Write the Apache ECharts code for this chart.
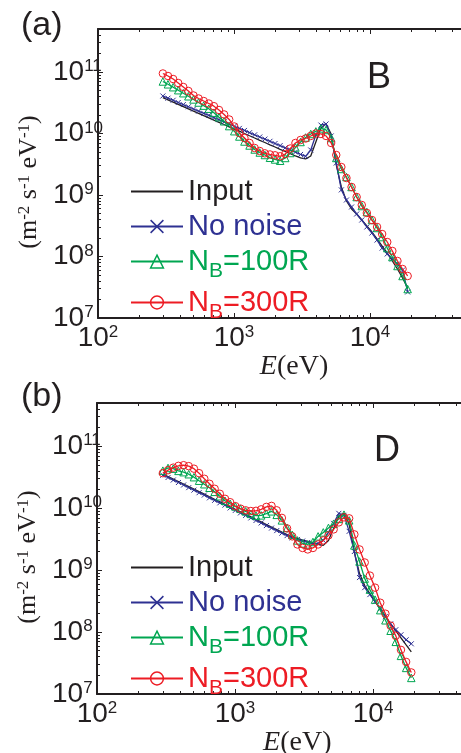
<!DOCTYPE html>
<html><head><meta charset="utf-8">
<script src="https://cdn.jsdelivr.net/npm/echarts@6/dist/echarts.min.js"></script>
<style>html,body{margin:0;padding:0;background:#fff}#c{width:461px;height:753px}</style>
</head><body><div id="c"></div>
<script>
// ---------- data ----------
const energy = [300,327,357,389,424,462,504,549,599,653,712,776,846,922,1005,1095,1194,1302,1419,1547,1687,1839,2005,2185,2383,2597,2832,3087,3366,3669,4000,4361,4754,5183,5651,6161,6716,7322,7983,8703,9488,10344,11277,12294,13403,14612,15931,17368,18934];

// panel (a) : B
const aInput = [3.84e10,3.53e10,3.24e10,2.98e10,2.74e10,2.52e10,2.31e10,2.13e10,1.95e10,1.80e10,1.65e10,1.52e10,1.40e10,1.28e10,1.18e10,1.09e10,1.00e10,9.18e9,8.45e9,7.75e9,7.14e9,6.55e9,6.03e9,5.53e9,5.10e9,4.70e9,4.31e9,4.00e9,3.85e9,4.31e9,7.28e9,1.23e10,1.43e10,9.8e9,3.08e9,1.35e9,7.98e8,5.92e8,4.91e8,3.92e8,3.13e8,2.50e8,1.93e8,1.48e8,1.14e8,8.45e7,6.26e7,4.47e7,3.08e7];
const aNoNoise = [4.07e10,3.75e10,3.47e10,3.19e10,2.95e10,2.72e10,2.50e10,2.31e10,2.13e10,1.97e10,1.81e10,1.68e10,1.55e10,1.43e10,1.31e10,1.21e10,1.12e10,1.03e10,9.52e9,8.77e9,8.11e9,7.47e9,6.88e9,6.35e9,5.85e9,5.41e9,4.99e9,4.56e9,4.23e9,5.39e9,9.46e9,1.37e10,1.43e10,9.11e9,3.31e9,1.21e9,8.29e8,6.38e8,4.91e8,3.92e8,3.02e8,2.41e8,1.85e8,1.37e8,1.10e8,9.10e7,7.55e7,6.03e7,2.65e7];
const aNB100 = [7.01e10,6.31e10,5.66e10,5.06e10,4.52e10,4.03e10,3.58e10,3.19e10,2.84e10,2.53e10,2.18e10,1.84e10,1.58e10,1.32e10,1.09e10,8.94e9,7.41e9,6.38e9,5.50e9,4.91e9,4.47e9,4.03e9,3.78e9,3.60e9,4.00e9,4.82e9,5.92e9,7.28e9,8.61e9,9.82e9,1.08e10,1.21e10,1.14e10,8.45e9,4.00e9,2.65e9,1.96e9,1.35e9,9.27e8,6.62e8,5.29e8,3.92e8,2.91e8,2.07e8,1.37e8,9.82e7,7.01e7,4.82e7,2.96e7];
const aNB300 = [9.46e10,8.61e10,7.69e10,6.62e10,5.70e10,4.91e10,4.15e10,3.71e10,3.37e10,3.07e10,2.78e10,2.41e10,2.04e10,1.69e10,1.30e10,1.02e10,8.45e9,7.01e9,5.81e9,5.19e9,4.76e9,4.56e9,4.42e9,4.26e9,4.64e9,5.70e9,7.01e9,7.84e9,8.29e9,9.11e9,1.00e10,9.82e9,9.11e9,7.01e9,4.47e9,2.85e9,1.89e9,1.35e9,9.27e8,6.88e8,5.10e8,3.92e8,3.02e8,2.32e8,1.72e8,1.23e8,8.45e7,6.26e7,4.82e7];

// panel (b) : D
const bInput = [3.54e10,3.25e10,2.96e10,2.70e10,2.46e10,2.23e10,2.03e10,1.85e10,1.69e10,1.53e10,1.39e10,1.27e10,1.16e10,1.05e10,9.57e9,8.71e9,7.94e9,7.23e9,6.58e9,6.00e9,5.44e9,4.96e9,4.52e9,4.11e9,3.75e9,3.45e9,3.25e9,3.06e9,2.91e9,2.75e9,2.60e9,2.51e9,3.02e9,4.72e9,7.39e9,8.26e9,5.48e9,1.93e9,8.81e8,5.63e8,4.18e8,3.10e8,2.39e8,1.80e8,1.36e8,1.05e8,8.09e7,6.22e7,4.80e7];
const bNoNoise = [3.41e10,3.13e10,2.85e10,2.60e10,2.37e10,2.15e10,1.96e10,1.78e10,1.63e10,1.47e10,1.34e10,1.22e10,1.12e10,1.01e10,9.22e9,8.39e9,7.65e9,6.97e9,6.34e9,5.78e9,5.24e9,4.78e9,4.35e9,3.96e9,3.61e9,3.32e9,3.13e9,2.95e9,2.80e9,2.65e9,2.70e9,3.02e9,4.07e9,5.69e9,8.26e9,7.67e9,4.23e9,2.00e9,7.59e8,5.22e8,4.03e8,3.10e8,2.39e8,1.77e8,1.36e8,1.09e8,9.04e7,7.50e7,6.46e7];
const bNB100 = [4.04e10,4.47e10,4.35e10,4.01e10,3.82e10,3.54e10,3.17e10,2.78e10,2.44e10,2.14e10,1.84e10,1.56e10,1.32e10,1.18e10,1.07e10,9.78e9,8.91e9,8.11e9,7.59e9,7.67e9,8.17e9,8.91e9,7.82e9,6.37e9,4.81e9,3.71e9,3.02e9,2.70e9,2.60e9,2.85e9,3.51e9,4.07e9,4.81e9,5.62e9,6.73e9,7.87e9,6.37e9,2.51e9,1.38e9,7.31e8,4.85e8,3.34e8,2.26e8,1.55e8,1.05e8,6.96e7,4.13e7,2.64e7,1.82e7];
const bNB300 = [3.68e10,4.11e10,4.52e10,4.83e10,4.95e10,4.78e10,4.35e10,3.68e10,2.99e10,2.48e10,2.06e10,1.71e10,1.42e10,1.25e10,1.08e10,9.86e9,9.25e9,9.01e9,9.08e9,9.59e9,1.05e10,1.09e10,9.25e9,6.98e9,4.72e9,3.51e9,2.60e9,2.28e9,2.16e9,2.28e9,2.60e9,3.02e9,3.64e9,4.55e9,5.91e9,7.12e9,6.86e9,3.78e9,2.16e9,1.33e9,8.17e8,5.22e8,2.98e8,1.98e8,1.27e8,8.71e7,5.16e7,3.30e7,2.23e7];

const seriesNames = ['Input', 'No noise', 'NB=100R', 'NB=300R'];
const panelTags = ['(a)', '(b)'];
const panelCases = ['B', 'D'];

// axis ranges and tick values
const X_MIN = 100, X_MAX = 50000;
const Y_MIN = 1e7, Y_MAX = 5e11;
const xMinorTicks = [200,300,400,500,600,700,800,900,2000,3000,4000,5000,6000,7000,8000,9000,20000,30000,40000];
const yMinorTicks = [2e7,3e7,4e7,5e7,6e7,7e7,8e7,9e7,2e8,3e8,4e8,5e8,6e8,7e8,8e8,9e8,2e9,3e9,4e9,5e9,6e9,7e9,8e9,9e9,2e10,3e10,4e10,5e10,6e10,7e10,8e10,9e10,2e11,3e11,4e11];

// ---------- style ----------
const SANS = '"Liberation Sans", Arial, Helvetica, sans-serif';
const SERIF = '"Liberation Serif", "Times New Roman", serif';
const BLACK = '#231f20', BLUE = '#2e3192', GREEN = '#00a651', RED = '#ed1c24';
const XPATH = 'path://M0,0L10,10M10,0L0,10';

const panels = [
  {left: 98, right: -4, top: 29, height: 289, legendTop: 177, tagTop: 9, caseLeft: 367, caseTop: 60, xNameGap: 27, xNameShift: 25,
   data: [aInput, aNoNoise, aNB100, aNB300]},
  {left: 97, right: -8.5, top: 403, height: 291, legendTop: 553, tagTop: 380, caseLeft: 374, caseTop: 433, xNameGap: 29, xNameShift: 28,
   data: [bInput, bNoNoise, bNB100, bNB300]}
];

const expRich = {
  b: {fontFamily: SANS, fontSize: 28, lineHeight: 28, padding: [7, 0, 0, 0], verticalAlign: 'bottom', color: BLACK},
  s: {fontFamily: SANS, fontSize: 17, lineHeight: 17, verticalAlign: 'top', color: BLACK}
};
function expLabel(v) {
  const e = Math.log10(v), r = Math.round(e);
  if (Math.abs(e - r) > 1e-6) return '';
  return '{b|10}{s|' + r + '}';
}
const xNameRich = {
  i: {fontFamily: SERIF, fontStyle: 'italic', fontSize: 28, color: BLACK},
  n: {fontFamily: SERIF, fontSize: 28, color: BLACK}
};
const yNameRich = {
  t: {fontFamily: SERIF, fontSize: 26, lineHeight: 26, padding: [6, 0, 0, 0], verticalAlign: 'bottom', color: BLACK},
  s: {fontFamily: SERIF, fontSize: 17, lineHeight: 17, verticalAlign: 'top', color: BLACK}
};
function legRichFor() {
  const base = {fontFamily: SANS, fontSize: 29, lineHeight: 29};
  const sub = {fontFamily: SANS, fontSize: 21, lineHeight: 15, padding: [14, 0, 0, 0], verticalAlign: 'top'};
  return {
    k: Object.assign({color: BLACK}, base),
    bl: Object.assign({color: BLUE}, base),
    g: Object.assign({color: GREEN}, base),
    gs: Object.assign({color: GREEN}, sub),
    r: Object.assign({color: RED}, base),
    rs: Object.assign({color: RED}, sub)
  };
}
function legFmt(name) {
  if (name === 'Input') return '{k|Input}';
  if (name === 'No noise') return '{bl|No noise}';
  if (name === 'NB=100R') return '{g|N}{gs|B}{g|=100R}';
  return '{r|N}{rs|B}{r|=300R}';
}

const styles = [
  {color: BLACK, symbol: 'none', size: 0},
  {color: BLUE, symbol: XPATH, size: 5},
  {color: GREEN, symbol: 'triangle', size: 7.5},
  {color: RED, symbol: 'circle', size: 7.5}
];

function minorAxis(gi, pos, lo, hi, vals) {
  return {type: 'value', gridIndex: gi, position: pos, min: lo, max: hi, silent: true,
    axisLine: {show: false, onZero: false}, axisLabel: {show: false}, splitLine: {show: false},
    axisTick: {show: true, inside: true, length: 3, customValues: vals, lineStyle: {color: BLACK, width: 1}}};
}

const grids = [], xAxes = [], yAxes = [], series = [], legends = [], titles = [];
panels.forEach((p, pi) => {
  grids.push({left: p.left, right: p.right, top: p.top, height: p.height, containLabel: false, outerBoundsMode: 'none'});
  const axisLine = {show: true, onZero: false, lineStyle: {color: BLACK, width: 2}};
  const majorTick = {show: true, inside: true, length: 5, lineStyle: {color: BLACK, width: 1}};
  const xLo = Math.log10(X_MIN), xHi = Math.log10(X_MAX), yLo = Math.log10(Y_MIN), yHi = Math.log10(Y_MAX);
  xAxes.push({type: 'log', logBase: 10, gridIndex: pi, position: 'bottom', min: X_MIN, max: X_MAX,
    axisLine, axisTick: majorTick, splitLine: {show: false},
    axisLabel: {formatter: expLabel, rich: expRich, margin: 6, showMinLabel: true, showMaxLabel: true},
    name: '{i|E}{n|(eV)}', nameLocation: 'middle', nameGap: p.xNameGap,
    nameTextStyle: {rich: xNameRich, padding: [0, 0, 0, p.xNameShift]}});
  xAxes.push(minorAxis(pi, 'bottom', xLo, xHi, xMinorTicks.map(Math.log10)));
  xAxes.push({type: 'log', logBase: 10, gridIndex: pi, position: 'top', min: X_MIN, max: X_MAX,
    axisLine, axisTick: majorTick, splitLine: {show: false}, axisLabel: {show: false}});
  xAxes.push(minorAxis(pi, 'top', xLo, xHi, xMinorTicks.map(Math.log10)));
  yAxes.push({type: 'log', logBase: 10, gridIndex: pi, position: 'left', min: Y_MIN, max: Y_MAX,
    axisLine, axisTick: majorTick, splitLine: {show: false},
    axisLabel: {formatter: expLabel, rich: expRich, margin: 45, align: 'left', showMinLabel: true, showMaxLabel: true},
    name: '{t|(m}{s|-2}{t| s}{s|-1}{t| eV}{s|-1}{t|)}', nameLocation: 'middle', nameRotate: 90, nameGap: 50,
    nameTextStyle: {rich: yNameRich, padding: [0, 17, 0, 0]}});
  yAxes.push(minorAxis(pi, 'left', yLo, yHi, yMinorTicks.map(Math.log10)));

  seriesNames.forEach((nm, si) => {
    const st = styles[si];
    series.push({
      type: 'line', name: nm, xAxisIndex: pi * 4, yAxisIndex: pi * 2,
      data: energy.map((e, i) => [e, p.data[si][i]]),
      symbol: st.symbol, symbolSize: st.size, showAllSymbol: true, showSymbol: st.symbol !== 'none',
      lineStyle: {color: st.color, width: 1.3},
      itemStyle: {color: 'transparent', borderColor: st.color, borderWidth: st.symbol === 'none' ? 0 : 1},
      emphasis: {disabled: true}, animation: false, z: 2 + si
    });
  });

  legends.push({
    orient: 'vertical', left: 130, top: p.legendTop, itemWidth: 52, itemHeight: 16, itemGap: 6,
    padding: 0, selectedMode: false,
    formatter: legFmt,
    textStyle: {fontFamily: SANS, fontSize: 29, rich: legRichFor()},
    lineStyle: {width: 2},
    data: seriesNames.map((nm, si) => ({
      name: nm,
      itemStyle: {color: 'transparent', borderColor: styles[si].color, borderWidth: si === 0 ? 0 : 1.5}
    }))
  });

  titles.push({text: panelTags[pi], left: 21, top: p.tagTop, padding: 0,
    textStyle: {fontFamily: SANS, fontSize: 34, lineHeight: 34, fontWeight: 'normal', color: BLACK}});
  titles.push({text: panelCases[pi], left: p.caseLeft, top: p.caseTop, padding: 0,
    textStyle: {fontFamily: SANS, fontSize: 36, lineHeight: 36, fontWeight: 'normal', color: BLACK}});
});

const chart = echarts.init(document.getElementById('c'), null, {renderer: 'canvas'});
chart.setOption({
  backgroundColor: '#fff',
  animation: false,
  textStyle: {fontFamily: SANS},
  title: titles,
  legend: legends,
  grid: grids,
  xAxis: xAxes,
  yAxis: yAxes,
  series: series
});
</script></body></html>
